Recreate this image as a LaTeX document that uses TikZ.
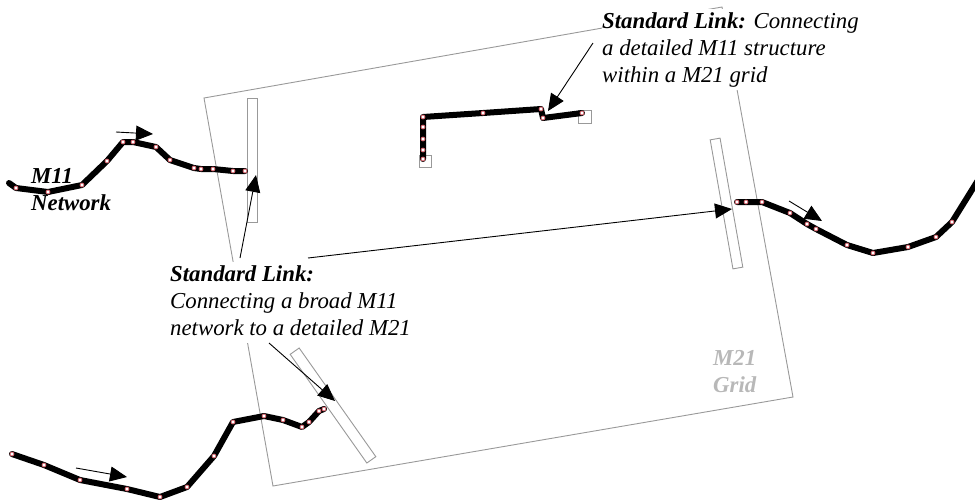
\documentclass[tikz,border=0pt]{standalone}
\usepackage{fontspec}
\setmainfont{Liberation Serif}
\usetikzlibrary{arrows.meta}
\definecolor{gridgray}{gray}{0.6}
\definecolor{lightgray2}{gray}{0.72}
\definecolor{dotred}{RGB}{205,80,90}
\begin{document}
\begin{tikzpicture}[x=1pt,y=-1pt,
  netline/.style={line width=6pt, line join=round, line cap=round},
  dotmark/.style={draw=dotred, fill=white, line width=0.7pt},
  gridline/.style={draw=gridgray, line width=0.9pt},
  linkbox/.style={draw=gridgray, line width=0.9pt, fill=white, rectangle, inner sep=0pt},
  endsq/.style={draw=gridgray, line width=0.9pt, rectangle, inner sep=0pt, minimum size=12pt},
  annot/.style={line width=0.9pt, -{Triangle[length=17pt,width=15pt]}},
  flow/.style={line width=0.9pt, -{Triangle[length=17pt,width=15pt]}},
  lbl/.style={inner sep=0pt, anchor=base west, font=\fontsize{22.8}{27}\selectfont\itshape},
]
\useasboundingbox (0,0) rectangle (975,499);

% M21 grid outline
\coordinate (g1) at (204,98);
\coordinate (g2) at (722,7);
\coordinate (g3) at (793,397);
\coordinate (g4) at (273,486);
\draw[gridline] (g1) -- (g2) -- (g3) -- (g4) -- cycle;

% link boxes
\node[linkbox, minimum width=10pt, minimum height=124pt] (lkL) at (252,160) {};
\node[linkbox, minimum width=10pt, minimum height=131pt, rotate=10] (lkR) at (726.5,203.5) {};
\node[linkbox, minimum width=133pt, minimum height=11pt, rotate=-54.8] (lkB) at (333,405.5) {};

% end squares of detailed structure
\node[endsq] (sq1) at (425.5,161) {};
\node[endsq, minimum size=13pt] (sq2) at (585,116.5) {};

% networks
\draw[netline] plot coordinates {(9,183) (16,188) (48,192) (82,185) (107,161) (123,142) (133,142) (156,147) (170,160) (194,168) (201,169) (213,169) (233,171) (245,171)};
\foreach \p in {(16,188),(48,192),(82,185),(107,161),(123,142),(133,142),(156,147),(170,160),(194,168),(201,169),(213,169),(233,171),(245,171)}
  \draw[dotmark] \p circle (2pt);

\draw[netline] plot coordinates {(423,159) (423,150) (423,139) (423,127) (423,117) (483,113) (541,109) (543,118) (582,113)};
\foreach \p in {(423,159),(423,150),(423,139),(423,127),(423,117),(483,113),(541,109),(543,118),(582,113)}
  \draw[dotmark] \p circle (2pt);

\draw[netline] plot coordinates {(737,202) (746,202) (762,202) (790,213) (807,224) (816,229) (847,245) (873,253) (908,247) (936,237) (952,222) (980,177)};
\foreach \p in {(737,202),(746,202),(762,202),(790,213),(807,224),(816,229),(847,245),(873,253),(908,247),(936,237),(952,222)}
  \draw[dotmark] \p circle (2pt);

\draw[netline] plot coordinates {(12,454) (44,465) (80,480) (127,489) (160,497) (187,487) (214,456) (233,422) (264,416) (283,420) (302,427) (309,422) (319,411) (324,409)};
\foreach \p in {(12,454),(44,465),(80,480),(127,489),(160,497),(187,487),(214,456),(233,422),(264,416),(283,420),(302,427),(309,422),(319,411),(324,409)}
  \draw[dotmark] \p circle (2pt);

% flow direction arrows
\coordinate (fA1) at (116,132); \coordinate (fA2) at (153,134);
\coordinate (fC1) at (789,201); \coordinate (fC2) at (822,221);
\coordinate (fD1) at (76,468);  \coordinate (fD2) at (127,477);
\draw[flow] (fA1) -- (fA2);
\draw[flow] (fC1) -- (fC2);
\draw[flow] (fD1) -- (fD2);

% labels
\node[lbl, font=\fontsize{22.8}{27}\selectfont\itshape\bfseries] (m11) at (31,183)
  {\begin{tabular}[t]{@{}l@{}}M11\\Network\end{tabular}};
\node[lbl, text=lightgray2, font=\fontsize{22.8}{27}\selectfont\itshape\bfseries] (m21) at (713,365)
  {\begin{tabular}[t]{@{}l@{}}M21\\Grid\end{tabular}};
\node[lbl, fill=white] (lab1) at (170,281)
  {\begin{tabular}[t]{@{}l@{}}\textbf{Standard Link:}\\Connecting a broad M11\\network to a detailed M21\end{tabular}};
\node[lbl, fill=white] (lab2) at (602,28)
  {\begin{tabular}[t]{@{}l@{}}\textbf{Standard Link:} Connecting\\a detailed M11 structure\\within a M21 grid\end{tabular}};

% annotation arrows
\coordinate (s1) at (240,258); \coordinate (t1) at (256,175);
\coordinate (s2) at (308,258); \coordinate (t2) at (732,209);
\coordinate (s3) at (269,343); \coordinate (t3) at (335,401);
\coordinate (s4) at (593,43);  \coordinate (t4) at (548,111);
\draw[annot] (s1) -- (t1);
\draw[annot] (s2) -- (t2);
\draw[annot] (s3) -- (t3);
\draw[annot] (s4) -- (t4);
\end{tikzpicture}
\end{document}
